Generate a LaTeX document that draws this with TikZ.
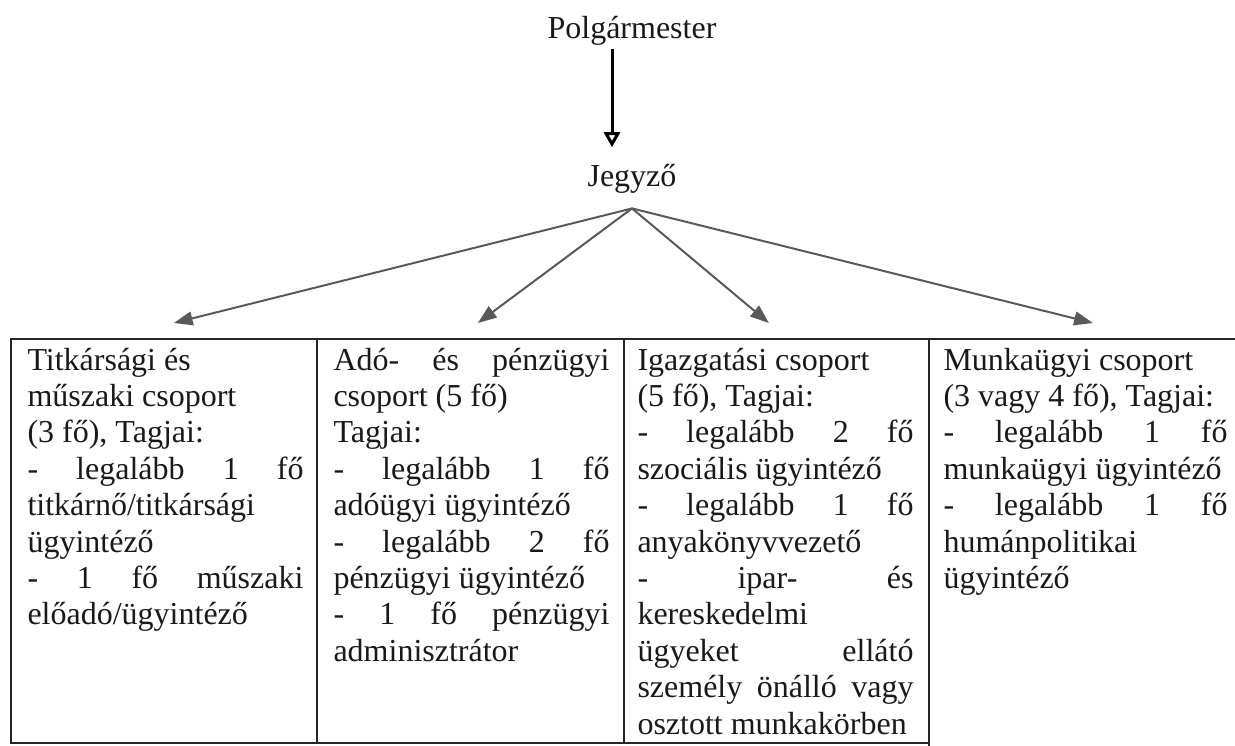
\documentclass[tikz,border=0pt]{standalone}
\usepackage{fontspec}
\setmainfont{Liberation Serif}
\usetikzlibrary{arrows.meta}
\hbadness=10000
\hyphenpenalty=10000

\begin{document}
\begin{tikzpicture}[x=0.4pt,y=-0.4pt,
    every node/.style={text=black!90,font=\fontsize{12.8pt}{14.56pt}\selectfont},
    cell/.style={draw=black!85,line width=0.7pt,inner sep=0pt,anchor=north west,minimum height=161.6pt},
    celltext/.style={anchor=base west,inner sep=0pt,text width=110.4pt,align=justify},
    branch/.style={draw=black!65,line width=0.8pt,-{Triangle[length=7.5pt,width=5.5pt]}},
    down/.style={draw=black,line width=1.2pt,-{Triangle[open,length=6pt,width=6.4pt]}}]
    \useasboundingbox (0,0) rectangle (1235,746);
    \clip (0,0) rectangle (1235,746);
    \node[anchor=base,inner sep=0pt] (polg) at (632,39) {Polgármester};
    \node[anchor=base,inner sep=0pt] (jegyzo) at (632,187) {Jegyző};
    \coordinate (hub) at ([yshift=-5.6pt]jegyzo.south);
    \draw[down] ([xshift=-8pt,yshift=-1pt]polg.south) -- ([xshift=-8pt,yshift=6.8pt]jegyzo.north);
    \node[cell,minimum width=122.4pt] (titk) at (10,338) {};
    \node[cell,minimum width=122.8pt] (ado) at (316,338) {};
    \node[cell,minimum width=122pt] (igaz) at (623,338) {};
    \node[cell,minimum width=126.8pt,minimum height=170pt] (munka) at (928,338) {};
    \node[celltext] (titkt) at ([xshift=6.8pt,yshift=-12.8pt]titk.north west) {Titkársági és\par
      műszaki csoport\par
      (3 fő), Tagjai:\par
      - legalább 1 fő\linebreak
      titkárnő/titkársági\linebreak
      ügyintéző\par
      - 1 fő műszaki\linebreak
      előadó/ügyintéző};
    \node[celltext] (adot) at ([xshift=6.8pt,yshift=-12.8pt]ado.north west) {Adó- és pénzügyi\linebreak
      csoport (5 fő)\par
      Tagjai:\par
      - legalább 1 fő\linebreak
      adóügyi ügyintéző\par
      - legalább 2 fő\linebreak
      pénzügyi ügyintéző\par
      - 1 fő pénzügyi\linebreak
      adminisztrátor};
    \node[celltext] (igazt) at ([xshift=5.6pt,yshift=-12.8pt]igaz.north west) {Igazgatási csoport\par
      (5 fő), Tagjai:\par
      - legalább 2 fő\linebreak
      szociális ügyintéző\par
      - legalább 1 fő\linebreak
      anyakönyvvezető\par
      - ipar- és\linebreak
      kereskedelmi\linebreak
      ügyeket ellátó\linebreak
      személy önálló vagy\linebreak
      osztott munkakörben};
    \node[celltext,text width=113.6pt] (munkat) at ([xshift=6pt,yshift=-12.8pt]munka.north west) {Munkaügyi csoport\par
      (3 vagy 4 fő), Tagjai:\par
      - legalább 1 fő\linebreak
      munkaügyi ügyintéző\par
      - legalább 1 fő\linebreak
      humánpolitikai\linebreak
      ügyintéző};
    \draw[branch] (hub) -- ([xshift=4pt,yshift=6pt]titk.north);
    \draw[branch] (hub) -- ([xshift=3pt,yshift=6pt]ado.north);
    \draw[branch] (hub) -- ([xshift=-3pt,yshift=6pt]igaz.north);
    \draw[branch] (hub) -- ([xshift=2.2pt,yshift=6pt]munka.north);
\end{tikzpicture}
\end{document}
